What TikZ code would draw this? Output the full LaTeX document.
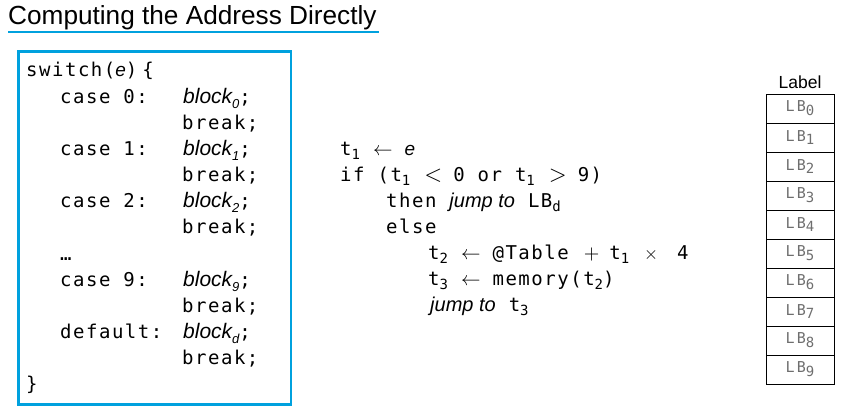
\documentclass[tikz,border=0pt]{standalone}
\usepackage{graphicx}
\usepackage{fontspec}
\setmainfont{Liberation Sans}
\newfontfamily\codefont[LetterSpace=8]{DejaVu Sans Mono}
\newfontfamily\cellfont[LetterSpace=14]{DejaVu Sans Mono}
\usetikzlibrary{calc}
\definecolor{accent}{RGB}{0,161,222}
\definecolor{celltext}{RGB}{110,110,110}

% lowered index in the current font
\newcommand\lo[2][14]{\raisebox{-0.25em}{\fontsize{#1}{#1}\selectfont #2}}
% math symbols set at 10pt and enlarged
\newcommand\msym[2]{{\fontsize{10}{10}\selectfont\scalebox{#1}{$#2$}}}
\newcommand\arr{\hspace{13pt}\msym{1.95}{\leftarrow}\hspace{12pt}}
\newcommand\rel[1]{\hspace{14pt}\msym{2.3}{#1}\hspace{11pt}}
\newcommand\ivar[1]{{\rmfamily\itshape #1}}
\newcommand\blk[1]{{\rmfamily\fontsize{21}{21}\selectfont\itshape block\lo[13]{#1}}}
\newcommand\jmp{{\rmfamily\fontsize{20}{20}\selectfont\itshape jump to}}

\tikzset{
  code/.style={anchor=base west, inner sep=0pt, font=\fontsize{19}{19}\codefont},
  cell/.style={draw=black, line width=0.8pt, minimum width=68pt, minimum height=29pt,
    inner sep=0pt, text=celltext, font=\fontsize{15}{15}\cellfont},
}

\begin{document}
\begin{tikzpicture}[x=1pt, y=-1pt]
\useasboundingbox (0,0) rectangle (853,412);

% heading
\node[anchor=base west, inner sep=0pt, font=\fontsize{26.2}{26.2}\selectfont] (title) at (8,25)
  {Computing the Address Directly};
\draw[accent, line width=2pt] ($(title.base west)+(0,7)$) -- ($(title.base east)+(2,7)$);

% switch statement
\node[draw=accent, line width=2.5pt, minimum width=272.5pt, minimum height=353pt, inner sep=0pt]
  (swbox) at (154.75,228) {};
\node[code] (sw) at (26,77) {switch(\ivar{e})\hspace{5pt}\{};
\node[code] (c0) at (60,103) {case 0:};
\node[code] (b0) at (183,103) {\blk0;};
\node[code] (k0) at (182,129) {break;};
\node[code] (c1) at (60,155) {case 1:};
\node[code] (b1) at (183,155) {\blk1;};
\node[code] (k1) at (182,181) {break;};
\node[code] (c2) at (60,207) {case 2:};
\node[code] (b2) at (183,207) {\blk2;};
\node[code] (k2) at (182,233) {break;};
\node[code] (dots) at (60,260) {…};
\node[code] (c9) at (60,286) {case 9:};
\node[code] (b9) at (183,286) {\blk9;};
\node[code] (k9) at (182,312) {break;};
\node[code] (cd) at (60,338) {default:};
\node[code] (bd) at (183,338) {\blk{d};};
\node[code] (kd) at (182,364) {break;};
\node[code] (close) at (26,390) {\}};

% address computation
\node[code] (m1) at (340,155) {t\lo1\arr\ivar{e}};
\node[code] (m2) at (340,181) {if (t\lo1\rel<0 or t\lo1\rel>9)};
\node[code] (m3) at (386,207) {then \jmp\ LB\lo{d}};
\node[code] (m4) at (386,233) {else};
\node[code] (m5) at (428,259)
  {t\lo2\arr@Table\hspace{15pt}\msym{2.0}{+}\hspace{10pt}t\lo1\hspace{15pt}\msym{1.8}{\times}\hspace{19pt}4};
\node[code] (m6) at (428,285) {t\lo3\arr memory(t\lo2)};
\node[code] (m7) at (430,311) {\jmp\ t\lo3};

% jump table
\node[anchor=base, inner sep=0pt, font=\fontsize{17.5}{17.5}\selectfont] (lbl) at (800,88) {Label};
\foreach \i in {0,...,9}
  \node[cell] (lb\i) at (800,{108.5+29*\i}) {LB\lo[14]{\i}};
\end{tikzpicture}
\end{document}
